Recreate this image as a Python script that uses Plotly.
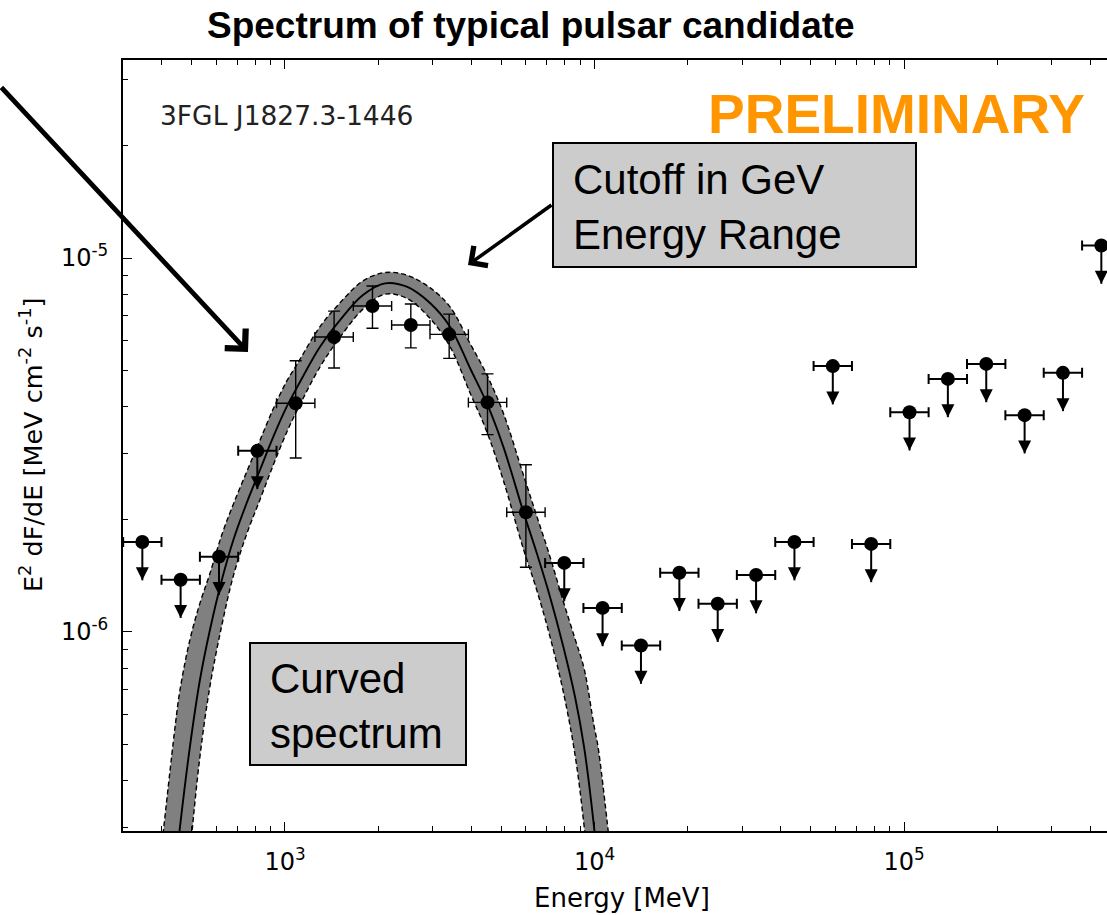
import plotly.graph_objects as go

# ------------------------------------------------------------------ data
# energy bin edges (MeV) of the spectral points
BIN_EDGES = [300, 399, 531, 706, 939, 1249, 1662, 2211, 2941, 3913, 5205, 6925,
             9210, 12250, 16300, 21680, 28840, 38370, 51040, 67900, 90300,
             120100, 159800, 212600, 282800, 376200, 500000]
# bin centres (MeV)
BIN_CENTERS = [346, 460, 612, 814, 1083, 1441, 1917, 2550, 3392, 4512, 6003,
               7986, 10620, 14130, 18800, 25010, 33270, 44260, 58880, 78330,
               104200, 138600, 184400, 245300, 326300, 434100]
# E^2 dF/dE values (MeV cm^-2 s^-1); detections give value, upper limits give the limit
FLUX = [1.74e-6, 1.38e-6, 1.59e-6, 3.05e-6, 4.09e-6, 6.15e-6, 7.44e-6, 6.62e-6,
        6.25e-6, 4.11e-6, 2.09e-6, 1.53e-6, 1.16e-6, 9.2e-7, 1.44e-6, 1.19e-6,
        1.42e-6, 1.74e-6, 5.14e-6, 1.72e-6, 3.87e-6, 4.75e-6, 5.21e-6, 3.80e-6,
        4.93e-6, 1.08e-5]
FLUX_HI = [None, None, None, None, 5.31e-6, 7.21e-6, 8.42e-6, 7.53e-6, 7.08e-6,
           4.90e-6, 2.80e-6] + [None] * 15
FLUX_LO = [None, None, None, None, 2.92e-6, 5.08e-6, 6.49e-6, 5.75e-6, 5.39e-6,
           3.37e-6, 1.49e-6] + [None] * 15
IS_UPPER_LIMIT = [True, True, True, True, False, False, False, False, False,
                  False, False] + [True] * 15
UL_ARROW_FRACTION = 0.79   # arrow tip of an upper limit, relative to the limit

# fitted spectral model and its 1-sigma band
MODEL_E = [401, 442, 458, 493, 531, 572, 625, 681, 752, 830, 917, 1013, 1091,
           1298, 1506, 1786, 2104, 2474, 2941, 3413, 3960, 4484, 5074, 5888,
           6507, 7181, 7930, 8650, 9250, 9963, 10264, 11310]
MODEL_F = [1.04e-7, 2.31e-7, 3.02e-7, 4.94e-7, 7.44e-7, 1.012e-6, 1.377e-6,
           1.762e-6, 2.213e-6, 2.711e-6, 3.328e-6, 4.003e-6, 4.492e-6, 5.792e-6,
           6.826e-6, 7.963e-6, 8.556e-6, 8.380e-6, 7.579e-6, 6.552e-6, 5.08e-6,
           4.096e-6, 3.13e-6, 2.098e-6, 1.626e-6, 1.243e-6, 9.135e-7, 6.714e-7,
           4.935e-7, 3.016e-7, 2.31e-7, 1.04e-7]
MODEL_F_UP = [2.74e-7, 5.63e-7, 7.01e-7, 9.54e-7, 1.193e-6, 1.433e-6, 1.819e-6,
              2.197e-6, 2.680e-6, 3.253e-6, 3.957e-6, 4.684e-6, 5.179e-6,
              6.557e-6, 7.59e-6, 8.688e-6, 9.146e-6, 9.0e-6, 8.329e-6, 7.404e-6,
              5.913e-6, 4.878e-6, 3.85e-6, 2.635e-6, 2.042e-6, 1.590e-6,
              1.207e-6, 9.59e-7, 8.0e-7, 5.62e-7, 4.94e-7, 2.5e-7]
MODEL_F_LO = [3.95e-8, 9.47e-8, 1.298e-7, 2.557e-7, 4.64e-7, 7.15e-7, 1.042e-6,
              1.413e-6, 1.827e-6, 2.259e-6, 2.799e-6, 3.421e-6, 3.896e-6,
              5.117e-6, 6.138e-6, 7.299e-6, 8.004e-6, 7.803e-6, 6.896e-6,
              5.798e-6, 4.364e-6, 3.439e-6, 2.545e-6, 1.670e-6, 1.295e-6,
              9.72e-7, 6.915e-7, 4.70e-7, 3.043e-7, 1.62e-7, 1.08e-7, 4.3e-8]

X_TICKS = [1e3, 1e4, 1e5]
X_TICK_TEXT = ["10<sup>3</sup>", "10<sup>4</sup>", "10<sup>5</sup>"]
Y_TICKS = [1e-6, 1e-5]
Y_TICK_TEXT = ["10<sup>-6</sup>", "10<sup>-5</sup>"]
X_MINOR = [m * 10 ** d for d in (2, 3, 4, 5) for m in range(2, 10)]
Y_MINOR = [m * 10 ** d for d in (-7, -6, -5) for m in range(2, 10)]

TITLE = "Spectrum of typical pulsar candidate"
SOURCE_NAME = "3FGL J1827.3-1446"
X_TITLE = "Energy [MeV]"
Y_TITLE = "E<sup>2</sup> dF/dE [MeV cm<sup>-2</sup> s<sup>-1</sup>]"

# ------------------------------------------------------------------ layout helpers
W, H = 1107, 915
L, R, T, B = 123, 1107, 60, 831          # plot area in pixels


def px(xp):
    return (xp - L) / (R - L)


def py(yp):
    return 1 - (yp - T) / (B - T)


# split points
det = [i for i, u in enumerate(IS_UPPER_LIMIT) if not u]
ul = [i for i, u in enumerate(IS_UPPER_LIMIT) if u]


def sel(arr, idx):
    return [arr[i] for i in idx]


det_e = sel(BIN_CENTERS, det)
det_f = sel(FLUX, det)
det_ex_plus = [BIN_EDGES[i + 1] - BIN_CENTERS[i] for i in det]
det_ex_minus = [BIN_CENTERS[i] - BIN_EDGES[i] for i in det]
det_ey_plus = [FLUX_HI[i] - FLUX[i] for i in det]
det_ey_minus = [FLUX[i] - FLUX_LO[i] for i in det]

ul_e = sel(BIN_CENTERS, ul)
ul_f = sel(FLUX, ul)
ul_ex_plus = [BIN_EDGES[i + 1] - BIN_CENTERS[i] for i in ul]
ul_ex_minus = [BIN_CENTERS[i] - BIN_EDGES[i] for i in ul]
ul_ey_minus = [f * (1 - UL_ARROW_FRACTION) for f in ul_f]
ul_tip = [f * UL_ARROW_FRACTION for f in ul_f]

fig = go.Figure()

# band fill
fig.add_trace(go.Scatter(x=MODEL_E, y=MODEL_F_LO, mode="lines",
                         line=dict(width=0, shape="spline"),
                         hoverinfo="skip", showlegend=False))
fig.add_trace(go.Scatter(x=MODEL_E, y=MODEL_F_UP, mode="lines",
                         line=dict(width=0, shape="spline"), fill="tonexty",
                         fillcolor="rgb(128,128,128)",
                         hoverinfo="skip", showlegend=False))
# band edges
for arr in (MODEL_F_LO, MODEL_F_UP):
    fig.add_trace(go.Scatter(x=MODEL_E, y=arr, mode="lines",
                             line=dict(color="black", width=1.4, dash="5px,3px",
                                       shape="spline"),
                             hoverinfo="skip", showlegend=False))
# model centre
fig.add_trace(go.Scatter(x=MODEL_E, y=MODEL_F, mode="lines",
                         line=dict(color="black", width=1.9, shape="spline"),
                         showlegend=False))

# detections
fig.add_trace(go.Scatter(
    x=det_e, y=det_f, mode="markers",
    marker=dict(symbol="circle", size=14, color="black"),
    error_x=dict(type="data", symmetric=False, array=det_ex_plus,
                 arrayminus=det_ex_minus, color="black", thickness=1.4, width=5),
    error_y=dict(type="data", symmetric=False, array=det_ey_plus,
                 arrayminus=det_ey_minus, color="black", thickness=1.4, width=6),
    showlegend=False))

# upper limits
fig.add_trace(go.Scatter(
    x=ul_e, y=ul_f, mode="markers",
    marker=dict(symbol="circle", size=14, color="black"),
    error_x=dict(type="data", symmetric=False, array=ul_ex_plus,
                 arrayminus=ul_ex_minus, color="black", thickness=2, width=5),
    error_y=dict(type="data", symmetric=False, array=[0] * len(ul_f),
                 arrayminus=ul_ey_minus, color="black", thickness=2, width=0),
    showlegend=False))
fig.add_trace(go.Scatter(
    x=ul_e, y=ul_tip, mode="markers",
    marker=dict(symbol="arrow-down", size=13, color="black",
                line=dict(width=0)),
    showlegend=False))

axis_common = dict(
    type="log", showline=True, linecolor="black", linewidth=2,
    ticks="inside", ticklen=9, tickwidth=1.3, tickcolor="black",
    showgrid=False, zeroline=False,
    tickfont=dict(family="DejaVu Sans", size=24, color="black"),
    ticklabelstandoff=8,
)

fig.update_xaxes(**axis_common, range=[2.4766, 5.6559], mirror="ticks",
                 tickmode="array", tickvals=X_TICKS, ticktext=X_TICK_TEXT,
                 minor=dict(ticks="inside", ticklen=5, tickwidth=1.2,
                            tickcolor="black", tickmode="array",
                            tickvals=X_MINOR, showgrid=False))
fig.update_yaxes(**axis_common, range=[-6.5321, -4.4706], mirror=False,
                 tickmode="array", tickvals=Y_TICKS, ticktext=Y_TICK_TEXT,
                 minor=dict(ticks="inside", ticklen=5, tickwidth=1.2,
                            tickcolor="black", tickmode="array",
                            tickvals=Y_MINOR, showgrid=False))

ann = []
ann.append(dict(text="<b>" + TITLE + "</b>", xref="paper", yref="paper",
                x=px(531), y=py(26), xanchor="center", yanchor="middle",
                showarrow=False,
                font=dict(family="Liberation Sans", size=37, color="black")))
ann.append(dict(text=SOURCE_NAME, xref="paper", yref="paper",
                x=px(158), y=py(116), xanchor="left", yanchor="middle",
                showarrow=False,
                font=dict(family="DejaVu Sans", size=26.5, color="#222222")))
ann.append(dict(text="<b>PRELIMINARY</b>", xref="paper", yref="paper",
                x=px(706), y=py(114), xanchor="left", yanchor="middle",
                showarrow=False,
                font=dict(family="Liberation Sans", size=55,
                          color="rgb(255,150,0)")))
ann.append(dict(text="Cutoff in GeV<br>Energy Range", xref="paper",
                yref="paper", x=px(571), y=py(207), xanchor="left",
                yanchor="middle", align="left", showarrow=False,
                font=dict(family="Liberation Sans", size=42, color="black")))
ann.append(dict(text="Curved<br>spectrum", xref="paper", yref="paper",
                x=px(268), y=py(706), xanchor="left", yanchor="middle",
                align="left", showarrow=False,
                font=dict(family="Liberation Sans", size=42, color="black")))
ann.append(dict(text=X_TITLE, xref="paper", yref="paper",
                x=px(622), y=py(898), xanchor="center", yanchor="middle",
                showarrow=False,
                font=dict(family="DejaVu Sans", size=26, color="black")))
ann.append(dict(text=Y_TITLE, xref="paper", yref="paper",
                x=px(31), y=py(445), xanchor="center", yanchor="middle",
                textangle=-90, showarrow=False,
                font=dict(family="DejaVu Sans", size=25.5, color="black")))
# arrows
ann.append(dict(text="", xref="paper", yref="paper", x=px(248), y=py(352),
                ax=-262, ay=-266, showarrow=True, arrowhead=4, arrowsize=1.15,
                arrowwidth=4.8, arrowcolor="black", standoff=0))
ann.append(dict(text="", xref="paper", yref="paper", x=px(468), y=py(265),
                ax=85, ay=-61, showarrow=True, arrowhead=4, arrowsize=1.3,
                arrowwidth=3.6, arrowcolor="black", standoff=0))

shapes = [
    dict(type="rect", xref="paper", yref="paper", x0=px(553), x1=px(916),
         y0=py(267), y1=py(143), fillcolor="rgb(204,204,204)",
         line=dict(color="black", width=2), layer="above"),
    dict(type="rect", xref="paper", yref="paper", x0=px(250), x1=px(466),
         y0=py(765), y1=py(643), fillcolor="rgb(204,204,204)",
         line=dict(color="black", width=2), layer="above"),
]

fig.update_layout(
    width=W, height=H,
    margin=dict(l=L, r=W - R, t=T, b=H - B, pad=0),
    paper_bgcolor="white", plot_bgcolor="white",
    annotations=ann, shapes=shapes, showlegend=False,
)

fig.write_html("out.html")
